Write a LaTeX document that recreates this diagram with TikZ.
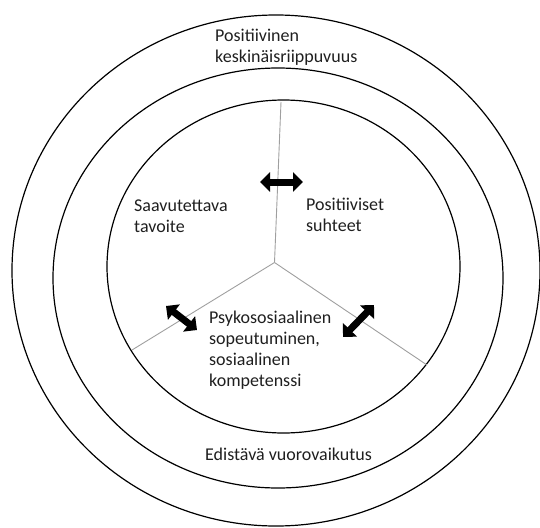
\documentclass[tikz,border=0pt]{standalone}
\usepackage{fontspec}
\setmainfont{Carlito}
\usetikzlibrary{arrows.meta}

\begin{document}
\begin{tikzpicture}[x=1pt, y=-1pt,
    ring/.style={draw, line width=1.2pt},
    spoke/.style={draw=gray!75, line width=0.9pt},
    txt/.style={anchor=base west, align=left, inner sep=0pt, font=\fontsize{18}{21}\selectfont, text=black!88},
    duo/.style={line width=7pt, {Triangle[length=10pt,width=19pt]}-{Triangle[length=10pt,width=19pt]}}]
    \useasboundingbox (0,0) rectangle (540,527);

    % Circles
    \draw[ring] (276,270.5) ellipse [x radius=264pt, y radius=255.5pt];
    \draw[ring] (278,278) ellipse [x radius=225pt, y radius=210pt];
    \draw[ring] (283.5,266.5) ellipse [x radius=176.5pt, y radius=166.5pt];

    % Spokes
    \coordinate (hub) at (274.5,262.5);
    \coordinate (top) at (281,102);
    \coordinate (left) at (132,350);
    \coordinate (right) at (427,365);
    \draw[spoke] (hub) -- (top);
    \draw[spoke] (hub) -- (left);
    \draw[spoke] (hub) -- (right);

    % Labels (placed at the baseline of their last line)
    \node[txt] (keskin) at (215,63) {Positiivinen\\keskinäisriippuvuus};
    \node[txt] (vuoro) at (205,460) {Edistävä vuorovaikutus};
    \node[txt] (tavoite) at (134,232) {Saavutettava\\tavoite};
    \node[txt] (suhteet) at (306,231) {Positiiviset\\suhteet};
    \node[txt] (psyko) at (209,386) {Psykososiaalinen\\sopeutuminen,\\sosiaalinen\\kompetenssi};

    % Arrows
    \coordinate (a1) at (260,182);
    \coordinate (b1) at (303,182);
    \coordinate (a2) at (166,306);
    \coordinate (b2) at (197,330);
    \coordinate (a3) at (343,337);
    \coordinate (b3) at (374,305);
    \draw[duo] (a1) -- (b1);
    \draw[duo] (a2) -- (b2);
    \draw[duo] (a3) -- (b3);
\end{tikzpicture}
\end{document}
